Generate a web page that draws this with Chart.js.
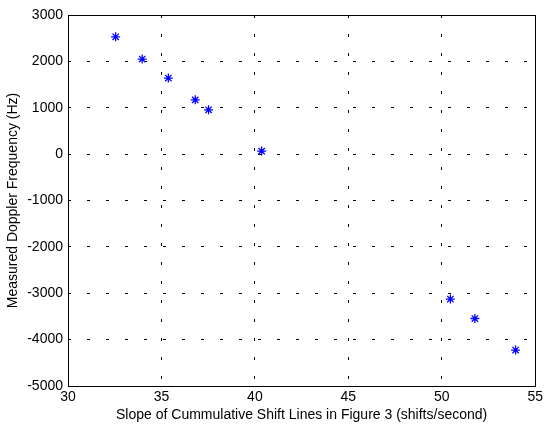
<!DOCTYPE html>
<html>
<head>
<meta charset="utf-8">
<script src="https://cdn.jsdelivr.net/npm/chart.js@4/dist/chart.umd.min.js"></script>
<style>
  html, body { margin: 0; padding: 0; background: #fff; }
  #wrap { width: 546px; height: 425px; }
</style>
</head>
<body>
<div id="wrap"><canvas id="dopplerChart"></canvas></div>
<script>
// slope of cumulative shift lines (shifts/second)
var slopes = [32.55, 33.97, 35.37, 36.81, 37.52, 40.36, 50.46, 51.77, 53.95];
// measured doppler frequency (Hz)
var freqs = [2530, 2050, 1640, 1170, 955, 65, -3125, -3545, -4225];

var xTicks = [30, 35, 40, 45, 50, 55];
var yTicks = [-5000, -4000, -3000, -2000, -1000, 0, 1000, 2000, 3000];

var points = slopes.map(function (s, i) { return { x: s, y: freqs[i] }; });

// black box round the plot area
var boxPlugin = {
    id: "box",
    afterDraw: function (chart) {
        var a = chart.chartArea, c = chart.ctx;
        c.save();
        c.strokeStyle = "#000";
        c.lineWidth = 1;
        c.setLineDash([]);
        c.strokeRect(Math.round(a.left) + 0.5, Math.round(a.top) + 0.5,
            Math.round(a.right - a.left), Math.round(a.bottom - a.top));
        c.restore();
    }
};

var font = { family: "'Liberation Sans', Arial, sans-serif", size: 14 };
var plain = function (v) { return String(v); };

new Chart(document.getElementById("dopplerChart").getContext("2d"), {
    type: "scatter",
    data: {
        datasets: [{
            data: points,
            pointStyle: "star",
            pointRadius: 4.5,
            pointBorderWidth: 1.3,
            borderColor: "#0000ff",
            backgroundColor: "#0000ff"
        }]
    },
    options: {
        responsive: true,
        maintainAspectRatio: false,
        animation: false,
        layout: { padding: { top: 15, right: 8, left: 0, bottom: 0 } },
        plugins: { legend: { display: false }, tooltip: { enabled: false } },
        scales: {
            x: {
                type: "linear",
                min: xTicks[0],
                max: xTicks[xTicks.length - 1],
                afterBuildTicks: function (s) { s.ticks = xTicks.map(function (v) { return { value: v }; }); },
                afterFit: function (s) { s.height = 39; },
                ticks: { color: "#000", font: font, padding: 3, maxRotation: 0, callback: plain },
                grid: { color: "#000", drawTicks: false, lineWidth: 1 },
                border: { display: false, dash: [3, 16] },
                title: {
                    display: true,
                    text: "Slope of Cummulative Shift Lines in Figure 3 (shifts/second)",
                    color: "#000", font: font, padding: { top: 0, bottom: 1 }
                }
            },
            y: {
                type: "linear",
                min: yTicks[0],
                max: yTicks[yTicks.length - 1],
                afterBuildTicks: function (s) { s.ticks = yTicks.map(function (v) { return { value: v }; }); },
                afterFit: function (s) { s.width = 68; },
                ticks: { color: "#000", font: font, padding: 5, callback: plain },
                grid: { color: "#000", drawTicks: false, lineWidth: 1 },
                border: { display: false, dash: [3, 16] },
                title: {
                    display: true,
                    text: "Measured Doppler Frequency (Hz)",
                    color: "#000", font: font, padding: { top: 5, bottom: 0 }
                }
            }
        }
    },
    plugins: [boxPlugin]
});
</script>
</body>
</html>
